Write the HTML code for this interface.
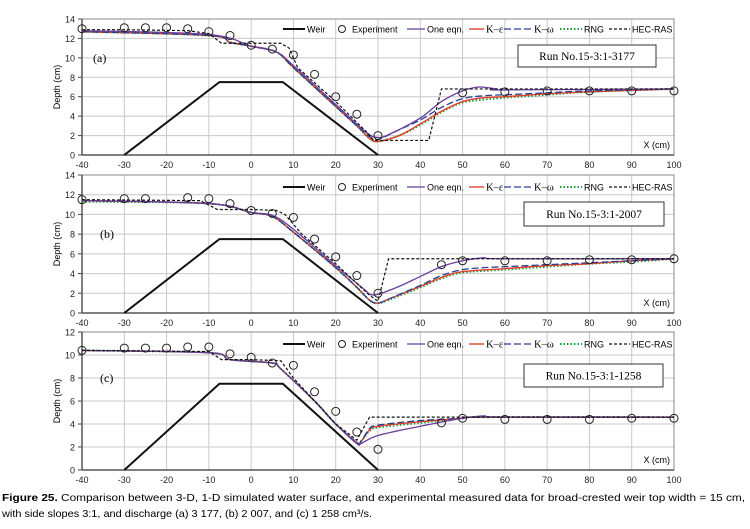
<!DOCTYPE html>
<html><head><meta charset="utf-8"><style>
body{margin:0;background:#fff;width:750px;height:529px;overflow:hidden}
svg{display:block}
</style></head><body>
<svg id="chart" width="750" height="529" viewBox="0 0 750 529" font-family="Liberation Sans, sans-serif">
<text x="2" y="501" font-size="10.5" textLength="743" lengthAdjust="spacingAndGlyphs"><tspan font-weight="bold">Figure 25.</tspan> Comparison between 3-D, 1-D simulated water surface, and experimental measured data for broad-crested weir top width = 15 cm,</text>
<text x="2" y="517" font-size="10.5" textLength="370" lengthAdjust="spacingAndGlyphs">with side slopes 3:1, and discharge (a) 3 177, (b) 2 007, and (c) 1 258 cm³/s.</text>
</svg>
<script>
const weirX=[-30,-7.5,7.5,30], weirY=[0,7.5,7.5,0];
const xTicks=[-40,-30,-20,-10,0,10,20,30,40,50,60,70,80,90,100];
const panelLabels=["(a)","(b)","(c)"];
const runLabels=["Run No.15-3:1-3177","Run No.15-3:1-2007","Run No.15-3:1-1258"];
const yMaxes=[14,14,12];
// panel a
const expXa=[-40,-30,-25,-20,-15,-10,-5,0,5,10,15,20,25,30,50,60,70,80,90,100];
const expYa=[13.0,13.1,13.1,13.1,13.0,12.7,12.3,11.3,10.9,10.3,8.3,6.0,4.2,2.0,6.4,6.5,6.6,6.6,6.6,6.6];
const hecXa=[-40,-30,-15,-10,-7,0,7,9,11,20,27,29,42,45,100];
const hecYa=[12.9,12.9,12.8,12.5,11.5,11.5,11.5,11,9,5.5,2.5,1.5,1.5,6.8,6.8];
const oneXa=[-40,-10,0,6,10,20,27,30,33,40,45,50,54,58,60,100];
const oneYa=[12.8,12.4,11.2,10.6,9.2,5.2,2.4,1.8,2.2,3.8,5.5,6.6,7.0,6.8,6.7,6.8];
const kwXa=[-40,-10,-5,0,6,10,20,25,28,30,35,40,45,50,55,60,70,80,100];
const kwYa=[12.7,12.3,11.6,11.2,10.6,9.0,5.0,3.0,1.9,1.6,2.6,3.6,4.9,5.8,6.1,6.2,6.4,6.6,6.8];
const keXa=[-40,-10,-5,0,6,10,20,25,28,30,35,40,45,50,55,60,70,80,100];
const keYa=[12.7,12.3,11.6,11.2,10.6,9.0,5.0,3.0,1.7,1.4,2.0,3.2,4.5,5.5,5.9,6.0,6.3,6.5,6.8];
const rnXa=[-40,-10,-5,0,6,10,20,25,28,30,35,40,45,50,55,60,70,80,100];
const rnYa=[12.7,12.3,11.6,11.2,10.6,9.0,5.0,3.0,1.7,1.4,2.0,3.1,4.4,5.4,5.7,5.9,6.2,6.5,6.8];
// panel b
const expXb=[-40,-30,-25,-15,-10,-5,0,5,10,15,20,25,30,45,50,60,70,80,90,100];
const expYb=[11.5,11.6,11.6,11.7,11.6,11.1,10.4,10.1,9.7,7.5,5.7,3.8,2.0,4.9,5.3,5.3,5.3,5.4,5.4,5.5];
const hecXb=[-40,-12,-8,0,6,8,12,20,28,30,32.5,100];
const hecYb=[11.5,11.4,10.5,10.5,10.4,10,8,5,1.8,1.2,5.5,5.5];
const oneXb=[-40,-10,0,5,10,20,27,28,30,35,40,45,50,55,60,100];
const oneYb=[11.4,11.1,10.2,9.9,8.5,4.8,2.3,1.9,1.9,2.7,3.7,4.7,5.3,5.6,5.5,5.5];
const kwXb=[-40,-10,0,5,10,20,25,28,30,33,40,45,50,55,60,70,80,90,100];
const kwYb=[11.4,11.1,10.2,9.8,8.2,4.6,2.6,1.3,1.0,1.5,2.8,3.8,4.4,4.6,4.7,4.9,5.1,5.3,5.5];
const keXb=[-40,-10,0,5,10,20,25,28,30,33,40,45,50,60,70,80,90,100];
const keYb=[11.4,11.1,10.2,9.8,8.2,4.6,2.6,1.3,1.0,1.5,2.7,3.6,4.2,4.5,4.8,5.0,5.3,5.5];
const rnXb=[-40,-10,0,5,10,20,25,28,30,33,40,45,50,60,70,80,90,100];
const rnYb=[11.3,11.1,10.2,9.8,8.2,4.6,2.6,1.3,1.0,1.4,2.6,3.5,4.1,4.4,4.7,5.0,5.2,5.5];
// panel c
const expXc=[-40,-30,-25,-20,-15,-10,-5,0,5,10,15,20,25,30,45,50,60,70,80,90,100];
const expYc=[10.4,10.6,10.6,10.6,10.7,10.7,10.1,9.8,9.3,9.1,6.8,5.1,3.3,1.8,4.1,4.5,4.4,4.4,4.4,4.5,4.5];
const hecXc=[-40,-10,-7,0,7,10,20,25,28,100];
const hecYc=[10.4,10.3,9.6,9.6,9.5,8,4,2.6,4.6,4.6];
const oneXc=[-40,-10,-5,5,7,15,20,25,26,30,40,50,55,60,100];
const oneYc=[10.4,10.2,9.6,9.3,8.8,6,4,2.3,2.3,3.0,3.8,4.5,4.7,4.6,4.6];
const kwXc=[-40,-10,-5,5,7,15,20,25,26,28,30,40,50,55,100];
const kwYc=[10.4,10.2,9.6,9.3,8.8,6,4,2.4,2.5,3.6,3.9,4.3,4.5,4.6,4.6];
const keXc=[-40,-10,-5,5,7,15,20,25,26,28,30,40,50,55,100];
const keYc=[10.4,10.2,9.6,9.3,8.8,6,4,2.4,2.5,3.5,3.8,4.2,4.5,4.6,4.6];
const rnXc=[-40,-10,-5,5,7,15,20,25,26,28,30,40,50,55,100];
const rnYc=[10.4,10.2,9.6,9.3,8.8,6,4,2.4,2.5,3.4,3.7,4.1,4.5,4.6,4.6];

const panels=[
 {top:19,bot:155,exp:[expXa,expYa],hec:[hecXa,hecYa],one:[oneXa,oneYa],kw:[kwXa,kwYa],ke:[keXa,keYa],rn:[rnXa,rnYa],box:[518,45,138,22],lab:[93,10]},
 {top:175,bot:313,exp:[expXb,expYb],hec:[hecXb,hecYb],one:[oneXb,oneYb],kw:[kwXb,kwYb],ke:[keXb,keYb],rn:[rnXb,rnYb],box:[524,202,140,24],lab:[100,8]},
 {top:332,bot:470,exp:[expXc,expYc],hec:[hecXc,hecYc],one:[oneXc,oneYc],kw:[kwXc,kwYc],ke:[keXc,keYc],rn:[rnXc,rnYc],box:[524,364,139,23],lab:[100,8]}
];
const L=82,R=674;
const SERIF='Liberation Serif, serif';
const svg=document.getElementById('chart');
const NS='http://www.w3.org/2000/svg';
function mk(t,a,p){const e=document.createElementNS(NS,t);for(const k in a)e.setAttribute(k,a[k]);(p||svg).appendChild(e);return e;}
function sx(x){return L+(x+40)/140*(R-L);}
function smooth(pts){let d='M'+pts[0][0]+','+pts[0][1];for(let i=0;i<pts.length-1;i++){const p0=pts[i-1]||pts[i],p1=pts[i],p2=pts[i+1],p3=pts[i+2]||p2;const c1=[p1[0]+(p2[0]-p0[0])/6,p1[1]+(p2[1]-p0[1])/6],c2=[p2[0]-(p3[0]-p1[0])/6,p2[1]-(p3[1]-p1[1])/6];d+=' C'+c1+' '+c2+' '+p2;}return d;}
panels.forEach((P,i)=>{
 const ymax=yMaxes[i];
 const sy=v=>P.bot-v/ymax*(P.bot-P.top);
 const g=mk('g',{});
 
 
 for(let v=0;v<=ymax;v+=2){
  const gl=mk('line',{x1:L,x2:R,y1:sy(v),y2:sy(v),stroke:'#c8c8c8','stroke-width':1},g);
  
  
  const t=mk('text',{x:L-7,y:sy(v)+3.5,'font-size':9,'text-anchor':'end',fill:'#222'},g);t.textContent=v;
  
  
  mk('line',{x1:L-4,x2:L,y1:sy(v),y2:sy(v),stroke:'#444'},g);
 }
 xTicks.forEach(x=>{
  const gl=mk('line',{x1:sx(x),x2:sx(x),y1:P.top,y2:P.bot,stroke:'#c8c8c8'},g);
  
  
  const t=mk('text',{x:sx(x),y:P.bot+13,'font-size':9,'text-anchor':'middle',fill:'#222'},g);t.textContent=x;
  
  
 });
 mk('rect',{x:L,y:P.top,width:R-L,height:P.bot-P.top,fill:'none',stroke:'#888'},g);
 mk('line',{x1:L,x2:L,y1:P.top,y2:P.bot,stroke:'#555','stroke-width':1.5},g);
 mk('line',{x1:L,x2:R,y1:P.bot,y2:P.bot,stroke:'#555','stroke-width':1.5},g);
 const yt=mk('text',{x:0,y:0,'font-size':9,'text-anchor':'middle',transform:`translate(60,${(P.top+P.bot)/2}) rotate(-90)`},g);yt.textContent='Depth (cm)';
 
 
 const xt=mk('text',{x:R-4,y:P.bot-7,'font-size':9,'text-anchor':'end'},g);xt.textContent='X (cm)';
 
 
 const lb=mk('text',{x:P.lab[0],y:sy(P.lab[1])+4,'font-size':12,'font-family':SERIF},g);lb.textContent=panelLabels[i];
 
 
 const b=P.box;
 mk('rect',{x:b[0],y:b[1],width:b[2],height:b[3],fill:'#fff',stroke:'#333'},g);
 const rt=mk('text',{x:b[0]+b[2]/2,y:b[1]+b[3]/2+4,'font-size':11.5,'text-anchor':'middle','font-family':SERIF},g);rt.textContent=runLabels[i];
 
 
 const w=mk('polyline',{points:weirX.map((x,k)=>sx(x)+','+sy(weirY[k])).join(' '),fill:'none',stroke:'#111','stroke-width':2},g);
 
 
 const series=[['rn','#1a9a3a','1.5,2',2,'rng-line',true],['ke','#e0402a','',1.4,'k-epsilon-line',true],['kw','#2a3f8f','7,3',1.3,'k-omega-line',true],['one','#6a3d9a','',1.3,'one-eqn-line',true],['hec','#111','3,2',1.2,'hec-ras-line',false]];
 series.forEach(s=>{
  const [xs,ys]=P[s[0]];const pts=xs.map((x,k)=>[sx(x),sy(ys[k])]);
  const d=s[5]?smooth(pts):'M'+pts.map(p=>p.join(',')).join(' L');
  const p=mk('path',{d:d,fill:'none',stroke:s[1],'stroke-width':s[3],'stroke-dasharray':s[2]},g);
  
  
 });
 const [ex,ey]=P.exp;
 ex.forEach((x,k)=>{const c=mk('circle',{cx:sx(x),cy:sy(ey[k]),r:4,fill:'none',stroke:'#222','stroke-width':1},g);
  
  });
 const ly=P.top+(i==0?10:12);
 const lg=mk('g',{},g);
 
 
 const ent=[[283,22,'Weir','#111','',2,'line'],[342,0,'Experiment','#222','',1,'circ'],[407,18,'One eqn.','#6a3d9a','',1.3,'line'],[469,15,'K–ε','#e0402a','',1.4,'line'],[504,28,'K–ω','#2a3f8f','7,3',1.3,'line'],[560,22,'RNG','#1a9a3a','1.5,2',2,'line'],[609,21,'HEC-RAS','#111','3,2',1.2,'line']];
 ent.forEach(e=>{
  let tx;
  if(e[6]=='circ'){mk('circle',{cx:e[0],cy:ly,r:3.5,fill:'none',stroke:'#222'},lg);tx=e[0]+10;}
  else{mk('line',{x1:e[0],x2:e[0]+e[1],y1:ly,y2:ly,stroke:e[3],'stroke-width':e[5],'stroke-dasharray':e[4]},lg);tx=e[0]+e[1]+2;}
  const serif=e[2].startsWith('K');
  const t=mk('text',{x:tx,y:ly+3.5,'font-size':serif?10.5:9},lg);t.textContent=e[2];
  if(serif)t.setAttribute('font-family',SERIF);
  
  
 });
});
</script>
</body></html>
